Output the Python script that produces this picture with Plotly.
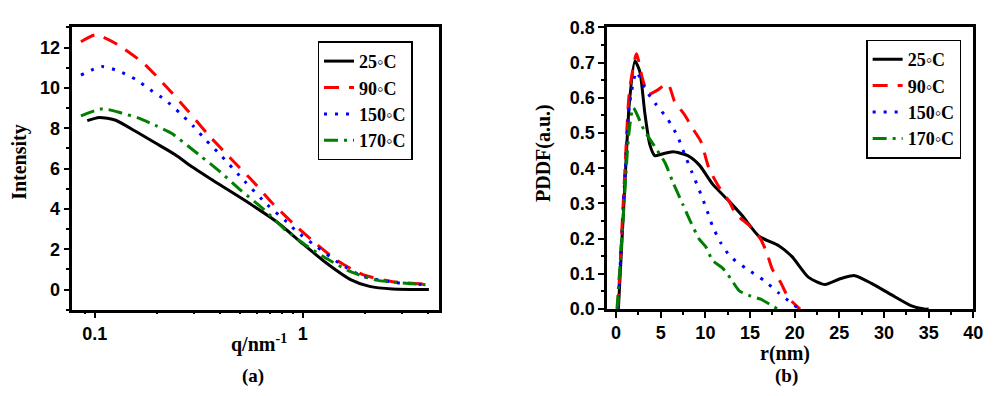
import plotly.graph_objects as go

# ---------------- Data: panel (a) SAXS intensity ----------------
q_25 = [0.092, 0.105, 0.126, 0.157, 0.195, 0.243, 0.292, 0.363, 0.524, 0.755, 1.01, 1.31, 1.69, 2.1, 2.71, 4.05]
I_25 = [8.38, 8.54, 8.40, 7.85, 7.28, 6.70, 6.10, 5.47, 4.44, 3.34, 2.24, 1.29, 0.51, 0.16, 0.03, 0.0]

q_90 = [0.0858, 0.101, 0.128, 0.172, 0.222, 0.281, 0.35, 0.452, 0.574, 0.727, 0.922, 1.17, 1.46, 1.95, 2.71, 3.98]
I_90 = [12.29, 12.64, 12.17, 11.22, 10.04, 8.86, 7.70, 6.49, 5.39, 4.21, 3.18, 2.24, 1.45, 0.74, 0.39, 0.27]

q_150 = [0.0858, 0.108, 0.131, 0.157, 0.185, 0.218, 0.257, 0.297, 0.344, 0.398, 0.524, 0.676, 0.842, 0.939, 1.13, 1.51, 1.95, 2.81, 3.98]
I_150 = [10.64, 11.06, 10.83, 10.43, 9.91, 9.41, 8.75, 8.12, 7.39, 6.73, 5.39, 4.21, 3.34, 2.87, 2.24, 1.29, 0.66, 0.35, 0.24]

q_170 = [0.0858, 0.109, 0.135, 0.163, 0.195, 0.234, 0.281, 0.325, 0.391, 0.505, 0.652, 0.812, 1.05, 1.31, 1.69, 2.26, 3.25, 3.98]
I_170 = [8.62, 8.97, 8.75, 8.50, 8.15, 7.75, 7.12, 6.60, 5.94, 4.92, 3.97, 3.03, 2.16, 1.53, 0.90, 0.47, 0.30, 0.24]

# ---------------- Data: panel (b) PDDF ----------------
r_25 = [0.26, 0.63, 1.0, 1.48, 2.11, 2.67, 3.22, 3.78, 4.33, 5.07, 6.37, 8.03, 9.33, 10.81, 12.67, 14.14, 16.0, 18.22, 19.7, 21.56, 23.4, 25.07, 26.73, 28.6, 30.8, 33.0, 34.5, 35.0]
P_25 = [0.0, 0.18, 0.36, 0.584, 0.705, 0.674, 0.557, 0.467, 0.436, 0.44, 0.447, 0.436, 0.409, 0.355, 0.306, 0.265, 0.207, 0.18, 0.149, 0.09, 0.07, 0.086, 0.095, 0.073, 0.041, 0.01, 0.0, 0.0]

r_90 = [0.2, 0.6, 1.0, 1.5, 2.29, 2.9, 3.6, 4.5, 5.8, 6.55, 7.67, 8.6, 9.5, 10.4, 11.55, 12.67, 13.4, 14.9, 16.2, 16.9, 17.5, 18.4, 19.3, 20.6]
P_90 = [0.0, 0.2, 0.4, 0.62, 0.725, 0.66, 0.61, 0.62, 0.64, 0.59, 0.552, 0.512, 0.476, 0.40, 0.346, 0.306, 0.27, 0.238, 0.198, 0.158, 0.113, 0.077, 0.032, 0.0]

r_150 = [0.2, 0.6, 1.0, 1.5, 2.29, 3.2, 4.4, 5.8, 6.9, 7.67, 8.5, 9.33, 10.07, 10.8, 11.7, 12.8, 14.7, 16.56, 18.2, 20.26]
P_150 = [0.0, 0.19, 0.38, 0.58, 0.674, 0.627, 0.584, 0.539, 0.49, 0.44, 0.388, 0.337, 0.288, 0.236, 0.189, 0.149, 0.113, 0.0815, 0.046, 0.005]

r_170 = [0.1, 0.6, 1.0, 1.4, 1.92, 3.1, 4.3, 5.5, 6.37, 7.48, 8.4, 9.33, 10.07, 10.8, 11.9, 12.8, 13.8, 15.07, 16.2, 18.1]
P_170 = [0.0, 0.18, 0.34, 0.49, 0.572, 0.51, 0.463, 0.415, 0.36, 0.297, 0.245, 0.198, 0.176, 0.138, 0.117, 0.088, 0.052, 0.037, 0.028, 0.0]

names = ["25\u25e6C", "90\u25e6C", "150\u25e6C", "170\u25e6C"]
colors = ["#000000", "#ff0000", "#0000ff", "#008000"]
dashes = ["solid", "15px,10px", "3px,8px", "14px,6px,3px,6px"]

y_ticks_a = [0, 2, 4, 6, 8, 10, 12]
x_ticks_b = [0, 5, 10, 15, 20, 25, 30, 35, 40]
y_ticks_b = [0.0, 0.1, 0.2, 0.3, 0.4, 0.5, 0.6, 0.7, 0.8]

# page has an 8px body margin; figure sized so the page fits the window
OFF = 8
FW, FH = 980, 379


def px(x):
    return (x - OFF) / FW


def py(y):
    return 1 - (y - OFF) / FH


fig = go.Figure()

left_sets = [(q_25, I_25), (q_90, I_90), (q_150, I_150), (q_170, I_170)]
right_sets = [(r_25, P_25), (r_90, P_90), (r_150, P_150), (r_170, P_170)]

for (x, y), n, c, d in zip(left_sets, names, colors, dashes):
    fig.add_trace(go.Scatter(x=x, y=y, name=n, mode="lines", xaxis="x", yaxis="y",
                             line=dict(color=c, width=3, dash=d, shape="spline", smoothing=0.6),
                             legend="legend"))
for (x, y), n, c, d in zip(right_sets, names, colors, dashes):
    fig.add_trace(go.Scatter(x=x, y=y, name=n, mode="lines", xaxis="x2", yaxis="y2",
                             line=dict(color=c, width=3, dash=d, shape="spline", smoothing=0.6),
                             legend="legend2"))

# invisible trace to activate minor-tick overlay axis
fig.add_trace(go.Scatter(x=[0.1], y=[None], xaxis="x3", yaxis="y", showlegend=False,
                         hoverinfo="skip", mode="lines"))

xd1 = [px(73), px(443)]
yd1 = [py(316), py(18)]
xd2 = [px(613.3), px(983.3)]
yd2 = [py(315.3), py(18)]

tickfont = dict(family="Liberation Sans, Arial", size=18, color="black", weight="bold")
common = dict(showline=True, linecolor="black", linewidth=2.5, mirror=True,
              ticks="outside", ticklen=6, tickwidth=2, tickcolor="black",
              showgrid=False, zeroline=False, tickfont=tickfont, ticklabeloverflow="allow")
minor_lin = dict(ticks="outside", ticklen=3.5, tickwidth=1.5, tickcolor="black", showgrid=False)
legfont = dict(family="Liberation Serif, Times New Roman", size=18, color="black", weight="bold")

fig.update_layout(
    width=FW, height=FH, margin=dict(l=0, r=0, t=0, b=0),
    paper_bgcolor="white", plot_bgcolor="white",
    xaxis=dict(domain=xd1, anchor="y", type="log", range=[-1.108, 0.654],
               tickvals=[0.1, 1], ticktext=["0.1", "1"], **common),
    yaxis=dict(domain=yd1, anchor="x", range=[-1, 13], tickvals=y_ticks_a,
               ticktext=[str(v) for v in y_ticks_a],
               minor=dict(dtick=1, **minor_lin), **common),
    xaxis3=dict(domain=xd1, anchor="y", overlaying="x", type="log", range=[-1.108, 0.654],
                tickvals=[0.09, 0.2, 0.3, 0.4, 0.5, 0.6, 0.7, 0.8, 0.9, 2, 3, 4],
                showticklabels=False, ticks="outside", ticklen=3.5, tickwidth=1.5,
                tickcolor="black", showgrid=False, zeroline=False, showline=False),
    xaxis2=dict(domain=xd2, anchor="y2", range=[-1, 40], tickvals=x_ticks_b,
                ticktext=[str(v) for v in x_ticks_b],
                minor=dict(dtick=2.5, **minor_lin), **common),
    yaxis2=dict(domain=yd2, anchor="x2", range=[0, 0.8], tickvals=y_ticks_b,
                ticktext=[f"{v:.1f}" for v in y_ticks_b],
                minor=dict(dtick=0.05, **minor_lin), **common),
    legend=dict(x=px(320.7), y=py(32.7), xanchor="left", yanchor="top",
                bordercolor="black", borderwidth=1.5, bgcolor="white",
                font=legfont, tracegroupgap=0),
    legend2=dict(x=px(875), y=py(30.7), xanchor="left", yanchor="top",
                 bordercolor="black", borderwidth=1.5, bgcolor="white",
                 font=legfont, tracegroupgap=0),
    showlegend=True,
)

serif = "Liberation Serif, Times New Roman"
ann = [
    ("Intensity", 20, 160, -90, 20),
    ("q/nm<sup>-1</sup>", 262, 352, 0, 20),
    ("(a)", 256, 386, 0, 19),
    ("PDDF(a.u.)", 549, 150, -90, 20),
    ("r(nm)", 793, 362, 0, 20),
    ("(b)", 795, 386, 0, 19),
]
for text, x, y, ang, size in ann:
    fig.add_annotation(text=text, x=px(x), y=py(y), xref="paper", yref="paper",
                       xanchor="center", yanchor="middle", showarrow=False, textangle=ang,
                       font=dict(family=serif, size=size, color="black", weight="bold"))

fig.write_html("out.html", config={"displayModeBar": False})
